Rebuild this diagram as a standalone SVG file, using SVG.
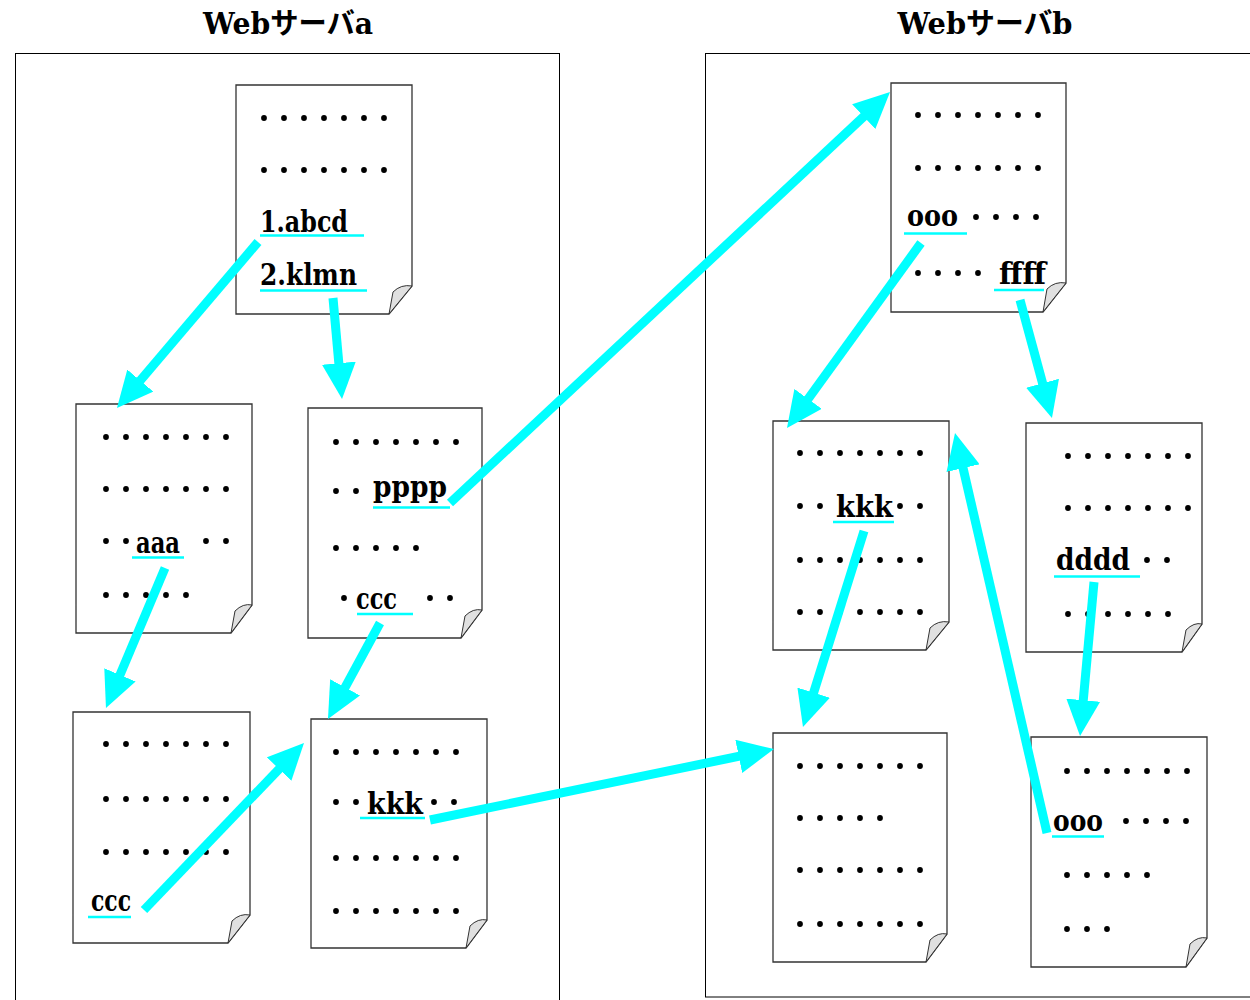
<svg xmlns="http://www.w3.org/2000/svg" xmlns:xlink="http://www.w3.org/1999/xlink" width="1250" height="1000" viewBox="0 0 1250 1000">
<style>
.box{fill:none;stroke:#000;stroke-width:1}
.title{font-family:"DejaVu Serif","Noto Sans CJK JP",serif;font-weight:bold;font-size:29px;fill:#000}
.page{fill:#fff;stroke:#333;stroke-width:1.3}
.flap{fill:#e0e0e0;stroke:#333;stroke-width:1}
.lbl{font-family:"DejaVu Serif","Liberation Serif",serif;font-weight:bold;font-size:29px;fill:#000}
.ul{stroke:#00ffff;stroke-width:2.6}
.arrow{stroke:#00ffff;stroke-width:9;fill:none;marker-end:url(#ah)}
</style>
<defs>
<marker id="ah" markerUnits="userSpaceOnUse" viewBox="0 0 36 34" markerWidth="36" markerHeight="34" refX="12" refY="17" orient="auto">
<path d="M0,0 L36,17 L0,34 Z" fill="#00ffff"/>
</marker>
<circle id="d" r="2.9" fill="#000"/>
<g id="r2"><use xlink:href="#d" x="0"/><use xlink:href="#d" x="20"/></g>
<g id="r3"><use xlink:href="#r2"/><use xlink:href="#d" x="40"/></g>
<g id="r4"><use xlink:href="#r3"/><use xlink:href="#d" x="60"/></g>
<g id="r5"><use xlink:href="#r4"/><use xlink:href="#d" x="80"/></g>
<g id="r6"><use xlink:href="#r5"/><use xlink:href="#d" x="100"/></g>
<g id="r7"><use xlink:href="#r6"/><use xlink:href="#d" x="120"/></g>
</defs>
<rect width="1250" height="1000" fill="#fff"/>

<g id="serverA">
<rect class="box" x="15.5" y="53.5" width="544" height="960"/>
<text class="title" x="288" y="34" text-anchor="middle" textLength="170" lengthAdjust="spacingAndGlyphs">Webサーバa</text>
</g>
<g id="serverB">
<rect class="box" x="705.5" y="53.5" width="545" height="943.5"/>
<text class="title" x="985" y="34" text-anchor="middle" textLength="175" lengthAdjust="spacingAndGlyphs">Webサーバb</text>
</g>

<g id="pageA1">
<path class="page" d="M236,85 H412 V286 L389,314 H236 Z"/>
<path class="flap" d="M389,314 L393,292 Q401,284 412,286 Z"/>
<use xlink:href="#r7" x="264" y="118"/><use xlink:href="#r7" x="264" y="170"/>
<text class="lbl" x="260" y="232" textLength="88" lengthAdjust="spacingAndGlyphs">1.abcd</text>
<line class="ul" x1="260" y1="235.5" x2="364" y2="235.5"/>
<text class="lbl" x="260" y="285" textLength="97" lengthAdjust="spacingAndGlyphs">2.klmn</text>
<line class="ul" x1="260" y1="290.5" x2="367" y2="290.5"/>
</g>

<g id="pageA2">
<path class="page" d="M76,404 H252 V605 L231,633 H76 Z"/>
<path class="flap" d="M231,633 L235,611 Q243,603 252,605 Z"/>
<use xlink:href="#r7" x="106" y="437"/><use xlink:href="#r7" x="106" y="489"/>
<use xlink:href="#r2" x="106" y="541"/><use xlink:href="#r2" x="206" y="541"/>
<use xlink:href="#r5" x="106" y="595"/>
<text class="lbl" x="136" y="553" textLength="44" lengthAdjust="spacingAndGlyphs">aaa</text>
<line class="ul" x1="132" y1="557.5" x2="184" y2="557.5"/>
</g>

<g id="pageA3">
<path class="page" d="M308,408 H482 V610 L461,638 H308 Z"/>
<path class="flap" d="M461,638 L465,616 Q473,608 482,610 Z"/>
<use xlink:href="#r7" x="336" y="442"/><use xlink:href="#r2" x="336" y="491"/>
<use xlink:href="#r5" x="336" y="548"/>
<use xlink:href="#d" x="344" y="598"/><use xlink:href="#r2" x="430" y="598"/>
<text class="lbl" x="373" y="497" textLength="74" lengthAdjust="spacingAndGlyphs">pppp</text>
<line class="ul" x1="373" y1="507.5" x2="450" y2="507.5"/>
<text class="lbl" x="356" y="609" textLength="41" lengthAdjust="spacingAndGlyphs">ccc</text>
<line class="ul" x1="357" y1="614" x2="413" y2="614"/>
</g>

<g id="pageA4">
<path class="page" d="M73,712 H250 V915 L228,943 H73 Z"/>
<path class="flap" d="M228,943 L232,921 Q240,913 250,915 Z"/>
<use xlink:href="#r7" x="106" y="744"/><use xlink:href="#r7" x="106" y="799"/><use xlink:href="#r7" x="106" y="852"/>
<text class="lbl" x="91" y="911" textLength="40" lengthAdjust="spacingAndGlyphs">ccc</text>
<line class="ul" x1="88" y1="917" x2="131" y2="917"/>
</g>

<g id="pageA5">
<path class="page" d="M311,719 H487 V920 L466,948 H311 Z"/>
<path class="flap" d="M466,948 L470,926 Q478,918 487,920 Z"/>
<use xlink:href="#r7" x="336" y="752"/>
<use xlink:href="#r2" x="336" y="802"/><use xlink:href="#r2" x="434" y="802"/>
<use xlink:href="#r7" x="336" y="858"/><use xlink:href="#r7" x="336" y="911"/>
<text class="lbl" x="367" y="814" textLength="56" lengthAdjust="spacingAndGlyphs">kkk</text>
<line class="ul" x1="360" y1="818" x2="425" y2="818"/>
</g>

<g id="pageB1">
<path class="page" d="M891,83 H1066 V283 L1043,312 H891 Z"/>
<path class="flap" d="M1043,312 L1047,289 Q1055,281 1066,283 Z"/>
<use xlink:href="#r7" x="918" y="115"/><use xlink:href="#r7" x="918" y="168"/>
<use xlink:href="#r4" x="976" y="217"/><use xlink:href="#r4" x="918" y="273"/>
<text class="lbl" x="907" y="226" textLength="51" lengthAdjust="spacingAndGlyphs">ooo</text>
<line class="ul" x1="904" y1="233.5" x2="967" y2="233.5"/>
<text class="lbl" x="999" y="284" textLength="47" lengthAdjust="spacingAndGlyphs">ffff</text>
<line class="ul" x1="994" y1="290" x2="1044" y2="290"/>
</g>

<g id="pageB2">
<path class="page" d="M773,421 H949 V622 L926,650 H773 Z"/>
<path class="flap" d="M926,650 L930,628 Q938,620 949,622 Z"/>
<use xlink:href="#r7" x="800" y="453"/>
<use xlink:href="#r2" x="800" y="506"/><use xlink:href="#r2" x="900" y="506"/>
<use xlink:href="#r7" x="800" y="560"/><use xlink:href="#r7" x="800" y="612"/>
<text class="lbl" x="836" y="517" textLength="57" lengthAdjust="spacingAndGlyphs">kkk</text>
<line class="ul" x1="833" y1="522" x2="894" y2="522"/>
</g>

<g id="pageB3">
<path class="page" d="M1026,423 H1202 V624 L1182,652 H1026 Z"/>
<path class="flap" d="M1182,652 L1186,630 Q1194,622 1202,624 Z"/>
<use xlink:href="#r7" x="1068" y="456"/><use xlink:href="#r7" x="1068" y="508"/>
<use xlink:href="#r2" x="1147" y="560"/><use xlink:href="#r6" x="1068" y="614"/>
<text class="lbl" x="1056" y="570" textLength="74" lengthAdjust="spacingAndGlyphs">dddd</text>
<line class="ul" x1="1054" y1="576.5" x2="1140" y2="576.5"/>
</g>

<g id="pageB4">
<path class="page" d="M773,733 H947 V934 L926,962 H773 Z"/>
<path class="flap" d="M926,962 L930,940 Q938,932 947,934 Z"/>
<use xlink:href="#r7" x="800" y="766"/><use xlink:href="#r5" x="800" y="818"/>
<use xlink:href="#r7" x="800" y="870"/><use xlink:href="#r7" x="800" y="924"/>
</g>

<g id="pageB5">
<path class="page" d="M1031,737 H1207 V938 L1186,967 H1031 Z"/>
<path class="flap" d="M1186,967 L1190,944 Q1198,936 1207,938 Z"/>
<use xlink:href="#r7" x="1067" y="771"/><use xlink:href="#r4" x="1126" y="821"/>
<use xlink:href="#r5" x="1067" y="875"/><use xlink:href="#r3" x="1067" y="929"/>
<text class="lbl" x="1053" y="831" textLength="50" lengthAdjust="spacingAndGlyphs">ooo</text>
<line class="ul" x1="1052" y1="836.5" x2="1104" y2="836.5"/>
</g>

<g id="connectors">
<line class="arrow" x1="258" y1="242" x2="132.5" y2="389.7"/>
<line class="arrow" x1="333" y1="298" x2="339.9" y2="375.1"/>
<line class="arrow" x1="450" y1="503" x2="872.5" y2="108.4"/>
<line class="arrow" x1="165" y1="568" x2="115.3" y2="685.9"/>
<line class="arrow" x1="380" y1="623" x2="339.4" y2="697.9"/>
<line class="arrow" x1="144" y1="910" x2="287.4" y2="760.3"/>
<line class="arrow" x1="430" y1="820" x2="750.5" y2="753.9"/>
<line class="arrow" x1="921" y1="243" x2="801.1" y2="408.6"/>
<line class="arrow" x1="1020" y1="300" x2="1045.7" y2="394.8"/>
<line class="arrow" x1="864" y1="531" x2="810.1" y2="704.1"/>
<line class="arrow" x1="1094" y1="582" x2="1082.2" y2="712.1"/>
<line class="arrow" x1="1047" y1="833" x2="960.4" y2="456.4"/>
</g>
</svg>
